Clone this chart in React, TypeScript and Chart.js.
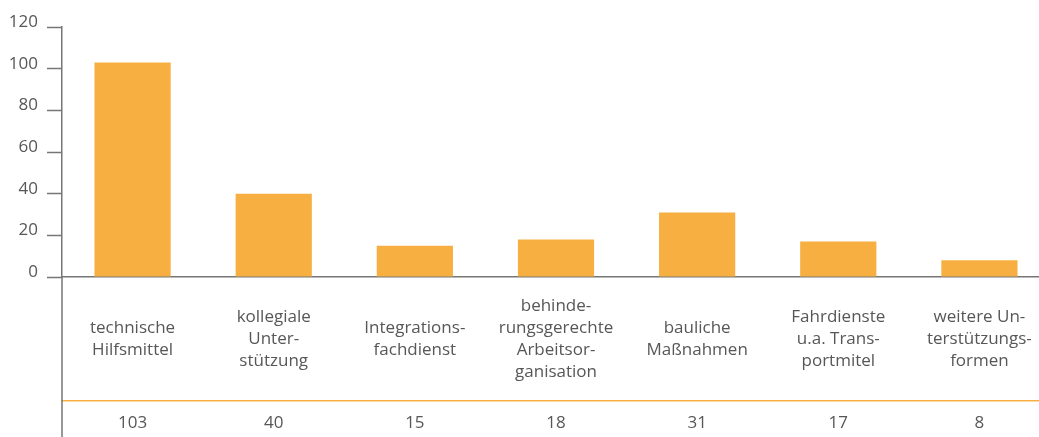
import React, { useEffect, useRef } from "react";
import { Chart, registerables } from "chart.js";

Chart.register(...registerables);

const categories: string[][] = [
  ["technische", "Hilfsmittel"],
  ["kollegiale", "Unter-", "stützung"],
  ["Integrations-", "fachdienst"],
  ["behinde-", "rungsgerechte", "Arbeitsor-", "ganisation"],
  ["bauliche", "Maßnahmen"],
  ["Fahrdienste", "u.a. Trans-", "portmitel"],
  ["weitere Un-", "terstützungs-", "formen"],
];
const values: number[] = [103, 40, 15, 18, 31, 17, 8];
const yTicks: number[] = [0, 20, 40, 60, 80, 100, 120];

const TEXT = "#575757";
const AXIS = "#767676";
const ORANGE = "#F7AF42";
const FONT = "'Open Sans', 'Noto Sans', sans-serif";

const noSidePadding = (s: any) => {
  s.paddingLeft = 0;
  s.paddingRight = 0;
};

export default function App() {
  const ref = useRef<HTMLCanvasElement | null>(null);
  useEffect(() => {
    document.body.style.margin = "0";
    document.body.style.overflow = "hidden";
    document.documentElement.style.overflow = "hidden";
    const axisExtension = {
      id: "axisExtension",
      afterDraw(chart: any) {
        const { ctx, chartArea } = chart;
        ctx.save();
        ctx.strokeStyle = AXIS;
        ctx.lineWidth = 1.5;
        ctx.beginPath();
        ctx.moveTo(chartArea.left, chartArea.bottom);
        ctx.lineTo(chartArea.left, chart.height);
        ctx.stroke();
        ctx.restore();
      },
    };
    const chart = new Chart(ref.current!, {
      type: "bar",
      data: {
        labels: categories,
        datasets: [
          {
            data: values,
            backgroundColor: ORANGE,
            barPercentage: 0.54,
            categoryPercentage: 1,
          },
        ],
      },
      options: {
        animation: false,
        responsive: false,
        layout: { padding: { top: 27, right: 0, bottom: 0, left: 0 } },
        plugins: { legend: { display: false }, tooltip: { enabled: false } },
        scales: {
          y: {
            min: 0,
            max: 120,
            afterFit: (s: any) => {
              s.width = 62;
            },
            afterBuildTicks: (s: any) => {
              s.ticks = yTicks.map((v) => ({ value: v }));
            },
            ticks: {
              color: TEXT,
              font: { family: FONT, size: 17 },
              padding: 9,
              labelOffset: -5,
            },
            grid: {
              drawOnChartArea: false,
              tickLength: 15,
              tickColor: AXIS,
              tickWidth: 1.5,
            },
            border: { color: AXIS, width: 1.5 },
          },
          x: {
            weight: 0,
            afterFit: (s: any) => {
              s.height = 124;
              noSidePadding(s);
            },
            ticks: {
              color: TEXT,
              font: { family: FONT, size: 17, lineHeight: 22 / 17 },
              maxRotation: 0,
              minRotation: 0,
              autoSkip: false,
              crossAlign: "center",
              padding: 29,
            },
            grid: { display: false, drawTicks: false },
            border: { color: AXIS, width: 1.5 },
          },
          x2: {
            type: "category",
            position: "bottom",
            weight: 1,
            offset: true,
            labels: values.map(String),
            afterFit: (s: any) => {
              s.height = 36;
              noSidePadding(s);
            },
            ticks: {
              color: TEXT,
              font: { family: FONT, size: 17 },
              maxRotation: 0,
              minRotation: 0,
              autoSkip: false,
              padding: 12,
            },
            grid: { display: false, drawTicks: false },
            border: { color: ORANGE, width: 1.5 },
          },
        },
      },
      plugins: [axisExtension],
    } as any);
    return () => chart.destroy();
  }, []);
  return (
    <div style={{ width: 1050, height: 437 }}>
      <canvas ref={ref} width={1050} height={437} style={{ width: 1050, height: 437, display: "block" }} />
    </div>
  );
}
